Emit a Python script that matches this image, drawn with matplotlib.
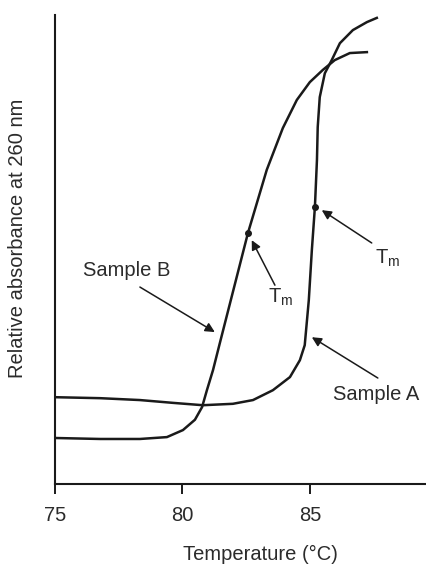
import matplotlib.pyplot as plt

plt.rcParams['font.family'] = ['Liberation Sans', 'DejaVu Sans']
plt.rcParams['mathtext.default'] = 'regular'

# Curvas de fusao (temperatura em °C, absorbancia relativa 0-100)
temp_a = [75.08, 76.77, 78.33, 79.63, 80.80, 81.98, 82.77, 83.55, 84.22, 84.61, 84.80, 84.96,
          85.08, 85.20, 85.28, 85.31, 85.39, 85.59, 85.86, 86.18, 86.69, 87.24, 87.63]
abs_a = [18.5, 18.3, 17.9, 17.3, 16.8, 17.1, 17.9, 20.0, 22.8, 26.4, 29.6, 39.2,
         49.9, 59.1, 69.1, 76.1, 82.5, 87.6, 90.4, 94.0, 96.8, 98.5, 99.4]

temp_b = [75.08, 76.77, 78.33, 79.39, 80.02, 80.49, 80.77, 80.96, 81.20, 81.47,
          82.10, 82.57, 83.31, 83.94, 84.49, 85.00, 85.51, 85.98, 86.57, 87.24]
abs_b = [9.8, 9.6, 9.6, 10.0, 11.5, 13.7, 16.4, 20.0, 24.3, 30.1,
         43.5, 53.5, 67.0, 75.9, 81.9, 85.7, 88.3, 90.4, 91.9, 92.1]

# Pontos de Tm marcados em cada curva
tm_a = (85.20, 59.1)
tm_b = (82.57, 53.5)

ticks = [75, 80, 85]
tick_labels = ['75', '80', '85']

cor = '#1a1a1a'
cor_txt = '#2b2b2b'
fs = 14.5

fig = plt.figure(figsize=(4.27, 5.67), dpi=100)
ax = fig.add_axes([0.129, 0.1464, 0.871, 0.827])

ax.plot(temp_a, abs_a, color=cor, lw=1.8, solid_joinstyle='round')
ax.plot(temp_b, abs_b, color=cor, lw=1.8, solid_joinstyle='round')
ax.plot(*tm_a, 'o', color=cor, ms=4)
ax.plot(*tm_b, 'o', color=cor, ms=4)

seta = dict(arrowstyle='-|>', color=cor, lw=1.1, mutation_scale=14, shrinkA=0, shrinkB=0)
ax.text(77.82, 45.6, 'Sample B', ha='center', va='center', fontsize=fs, color=cor_txt)
ax.annotate('', xy=(81.27, 32.4), xytext=(78.33, 42.0), arrowprops=seta)
ax.annotate('', xy=(82.72, 52.0), xytext=(83.63, 42.4), arrowprops=seta)
ax.text(83.35, 39.7, '$T_m$', ha='left', va='center', fontsize=fs, color=cor_txt)
ax.annotate('', xy=(85.47, 58.4), xytext=(87.43, 51.4), arrowprops=seta)
ax.text(87.55, 48.2, '$T_m$', ha='left', va='center', fontsize=fs, color=cor_txt)
ax.annotate('', xy=(85.08, 31.3), xytext=(87.67, 22.6), arrowprops=seta)
ax.text(85.90, 19.0, 'Sample A', ha='left', va='center', fontsize=fs, color=cor_txt)

ax.set_xlim(75, 89.6)
ax.set_ylim(0, 100)
ax.set_xticks(ticks)
ax.set_xticklabels(tick_labels)
ax.set_yticks([])
ax.tick_params(axis='x', direction='out', length=7, width=1.4, pad=9, labelsize=fs,
               colors=cor, labelcolor=cor_txt)

for lado in ['top', 'right']:
    ax.spines[lado].set_visible(False)
for lado in ['left', 'bottom']:
    ax.spines[lado].set_linewidth(1.5)
    ax.spines[lado].set_color(cor)

ax.set_xlabel('Temperature (°C)', fontsize=fs, color=cor_txt)
ax.xaxis.set_label_coords(0.551, -0.13)
ax.set_ylabel('Relative absorbance at 260 nm', fontsize=fs, color=cor_txt)
ax.yaxis.set_label_coords(-0.075, 0.525)

plt.savefig('out.png', dpi=100)
